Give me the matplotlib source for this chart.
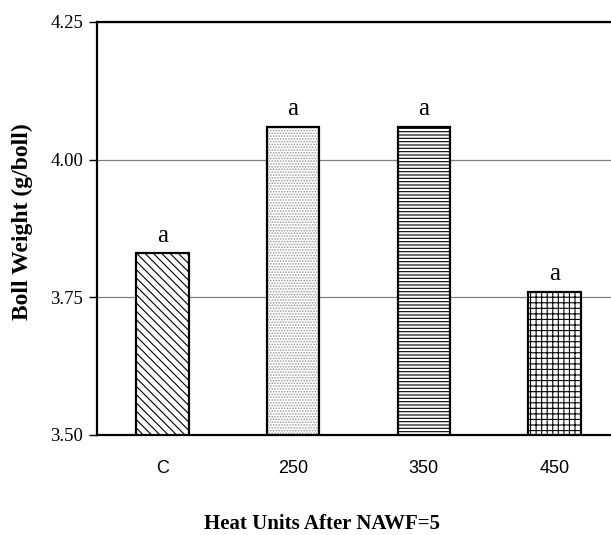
import matplotlib
matplotlib.use("Agg")
import matplotlib.pyplot as plt
import matplotlib.transforms as mtransforms

categories = ["C", "250", "350", "450"]
values = [3.83, 4.06, 4.06, 3.76]
letters = ["a", "a", "a", "a"]
yticks = [3.50, 3.75, 4.00, 4.25]
ytick_labels = ["3.50", "3.75", "4.00", "4.25"]
hatches = ["\\\\\\\\", "......", "-----", "+++"]
hatch_colors = ["black", "#9a9a9a", "black", "black"]

plt.rcParams["hatch.linewidth"] = 0.8

fig = plt.figure(figsize=(6.11, 5.35), dpi=100)
ax = fig.add_axes([97 / 611, 100 / 535, 523 / 611, 413 / 535])

x = list(range(len(categories)))
for xi, v, h, hc in zip(x, values, hatches, hatch_colors):
    ax.bar(xi, v - 3.5, bottom=3.5, width=0.4, color="white", edgecolor=hc,
           hatch=h, linewidth=0, zorder=3)
    ax.bar(xi, v - 3.5, bottom=3.5, width=0.4, fill=False, edgecolor="black",
           linewidth=1.6, zorder=4)

for xi, v, t in zip(x, values, letters):
    ax.text(xi, v + 0.012, t, ha="center", va="bottom", fontsize=18,
            family="Liberation Serif", zorder=5)

ax.set_xlim(-0.5, 3.5)
ax.set_ylim(3.50, 4.25)
ax.set_yticks(yticks)
ax.set_yticklabels(ytick_labels, family="Liberation Serif", fontsize=13.5)
ax.set_xticks(x)
ax.set_xticklabels(categories, family="Liberation Sans", fontsize=13)
offset = mtransforms.ScaledTranslation(-6 / 100, 0, fig.dpi_scale_trans)
for lab in ax.get_xticklabels():
    lab.set_transform(lab.get_transform() + offset)
ax.tick_params(axis="x", length=0, pad=18)
ax.tick_params(axis="y", length=6, width=1, direction="out", pad=4)

ax.yaxis.grid(True, color="#808080", linewidth=0.9, zorder=0)
ax.set_axisbelow(True)
for s in ["left", "bottom", "top"]:
    ax.spines[s].set_linewidth(1.6)
ax.spines["right"].set_visible(False)

fig.text(22 / 611, 1 - 222 / 535, "Boll Weight (g/boll)", rotation=90,
         ha="center", va="center", fontsize=17, fontweight="bold",
         family="Liberation Serif")
fig.text(322 / 611, 1 - 524 / 535, "Heat Units After NAWF=5", ha="center",
         va="center", fontsize=15, fontweight="bold", family="Liberation Serif")

fig.savefig("out.png", dpi=100)
